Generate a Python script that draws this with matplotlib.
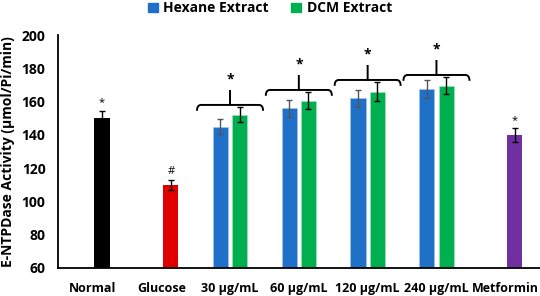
import numpy as np
import matplotlib.pyplot as plt
from matplotlib.path import Path
from matplotlib.patches import PathPatch, Patch

plt.rcParams['font.family'] = ['Open Sans', 'DejaVu Sans']
plt.rcParams['font.weight'] = 'bold'

categories = ['Normal', 'Glucose', '30 µg/mL', '60 µg/mL', '120 µg/mL', '240 µg/mL', 'Metformin']

# single-bar groups
single_idx = [0, 1, 6]
single_vals = [150, 110, 140]
single_err = [4.5, 3, 4]
single_colors = ['#000000', '#e00000', '#7030a0']
single_marks = ['*', '#', '*']

# extract groups
dose_idx = [2, 3, 4, 5]
hexane_vals = [145, 156, 162, 167.5]
hexane_err = [4.5, 5, 5, 5.5]
dcm_vals = [152, 160.5, 166, 169.5]
dcm_err = [4.5, 5, 5.5, 5]

blue = '#1f70c9'
green = '#00b050'

fig = plt.figure(figsize=(5.4, 2.96), dpi=100)
ax = fig.add_axes([0.1074, 0.0946, 0.892, 0.787])

w = 0.22
off = 0.14

ax.bar(np.array(single_idx) + off, single_vals, w, color=single_colors,
       yerr=single_err, error_kw=dict(ecolor='black', capsize=2, lw=1, capthick=1))
ax.bar(np.array(dose_idx) - off, hexane_vals, w, color=blue, edgecolor='#9fc3ea', lw=0.5,
       yerr=hexane_err, error_kw=dict(ecolor='#555555', capsize=2, lw=1, capthick=1))
ax.bar(np.array(dose_idx) + off, dcm_vals, w, color=green, edgecolor='#9fe0b8', lw=0.5,
       yerr=dcm_err, error_kw=dict(ecolor='black', capsize=2, lw=1, capthick=1))

for i, v, e, m in zip(single_idx, single_vals, single_err, single_marks):
    ax.text(i + off, v + e + 1.5, m, ha='center', va='bottom', fontsize=8, fontweight='normal')


def brace(ax, xc, y, half=0.48, dip=3.5, stem=9, r=0.06):
    x0, x1 = xc - half, xc + half
    verts = [(x0, y - dip), (x0, y), (x0 + r, y), (xc, y), (xc, y + stem),
             (xc, y), (x1 - r, y), (x1, y), (x1, y - dip)]
    codes = [Path.MOVETO, Path.CURVE3, Path.CURVE3, Path.LINETO, Path.LINETO,
             Path.MOVETO, Path.LINETO, Path.CURVE3, Path.CURVE3]
    ax.add_patch(PathPatch(Path(verts, codes), fill=False, lw=1.4, color='black'))
    ax.text(xc, y + stem + 2, '*', ha='center', va='bottom', fontsize=10)


for i, h, he, d, de in zip(dose_idx, hexane_vals, hexane_err, dcm_vals, dcm_err):
    top = max(h + he, d + de)
    brace(ax, i, top + 1.5)

ax.set_xlim(-0.5, 6.5)
ax.set_ylim(60, 200)
ax.set_yticks(np.arange(60, 201, 20))
ax.set_xticks(range(len(categories)))
ax.set_xticklabels(categories, fontsize=9, fontweight='bold')
ax.tick_params(axis='y', labelsize=10, length=0, pad=9)
ax.tick_params(axis='x', length=0, pad=10)
for lab in ax.get_yticklabels():
    lab.set_fontweight('bold')
for s in ['top', 'right']:
    ax.spines[s].set_visible(False)
for s in ['left', 'bottom']:
    ax.spines[s].set_linewidth(1.3)
ax.set_ylabel('E-NTPDase Activity (µmol/Pi/min)', fontsize=10, fontweight='bold', labelpad=5)

handles = [Patch(color=blue, label='Hexane Extract'), Patch(color=green, label='DCM Extract')]
fig.legend(handles=handles, loc='center', bbox_to_anchor=(0.5, 0.972), ncol=2, frameon=False,
           prop=dict(weight='bold', size=10), handlelength=0.7, handleheight=0.7,
           handletextpad=0.4, columnspacing=1.6)

fig.savefig('out.png', dpi=100)
